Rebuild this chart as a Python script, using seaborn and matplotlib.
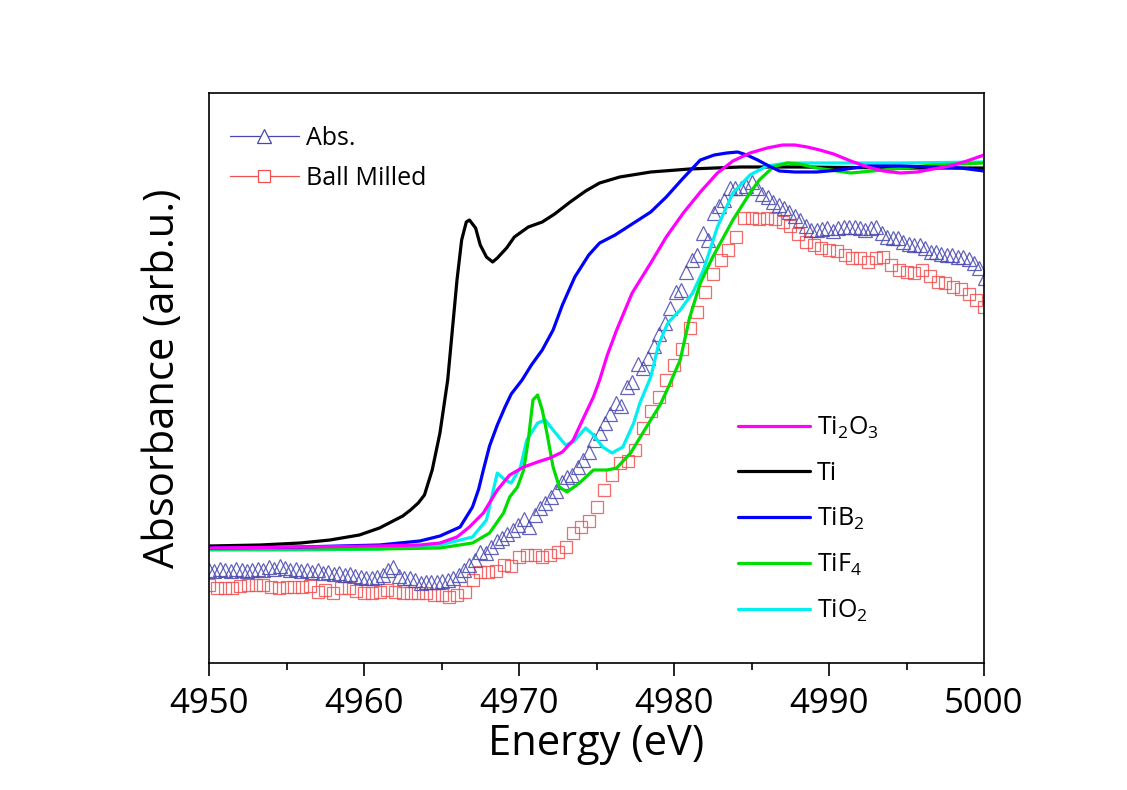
import numpy as np
import pandas as pd
import matplotlib
matplotlib.use("Agg")
import matplotlib.pyplot as plt
from matplotlib.lines import Line2D
from matplotlib.ticker import MultipleLocator
import seaborn as sns

# ---------------- data ----------------
# Reference curves (energy in eV, normalized absorbance arb.u.)
ti_E = [4950.0, 4953.3, 4955.9, 4957.8, 4959.7, 4961.0, 4962.0, 4962.5, 4963.0, 4963.5,
        4963.9, 4964.4, 4964.9, 4965.4, 4965.7, 4966.0, 4966.3, 4966.6, 4966.8, 4967.2,
        4967.5, 4967.9, 4968.3, 4968.6, 4969.2, 4969.7, 4970.6, 4971.5, 4972.3, 4973.3,
        4974.3, 4975.2, 4976.5, 4978.5, 4981.0, 4984.3, 4988.1, 4994.6, 5000.0]
ti_y = [1.17, 1.18, 1.20, 1.23, 1.28, 1.35, 1.43, 1.47, 1.53, 1.60,
        1.68, 1.93, 2.30, 2.83, 3.33, 3.83, 4.23, 4.41, 4.43, 4.35,
        4.18, 4.06, 4.01, 4.05, 4.15, 4.26, 4.36, 4.41, 4.49, 4.61,
        4.72, 4.80, 4.86, 4.91, 4.94, 4.96, 4.96, 4.95, 4.95]

tib2_E = [4950.0, 4955.9, 4961.0, 4963.6, 4964.9, 4966.2, 4967.0, 4967.4, 4967.7, 4968.1,
          4968.6, 4969.1, 4969.5, 4970.2, 4970.8, 4971.5, 4972.2, 4972.8, 4973.6, 4974.5,
          4975.2, 4976.2, 4977.4, 4978.5, 4979.5, 4980.6, 4981.7, 4982.6, 4983.4, 4984.1,
          4984.7, 4985.4, 4986.0, 4986.8, 4987.8, 4989.2, 4990.7, 4992.5, 4994.6, 4996.7,
          4998.5, 5000.0]
tib2_y = [1.15, 1.16, 1.18, 1.22, 1.27, 1.36, 1.56, 1.74, 1.93, 2.17,
          2.38, 2.56, 2.69, 2.83, 2.98, 3.13, 3.33, 3.58, 3.86, 4.08,
          4.20, 4.28, 4.40, 4.51, 4.66, 4.85, 5.03, 5.08, 5.10, 5.11,
          5.08, 5.03, 4.98, 4.92, 4.91, 4.91, 4.93, 4.97, 4.97, 4.96,
          4.95, 4.92]

ti2o3_E = [4950.0, 4955.9, 4961.0, 4963.6, 4964.9, 4966.0, 4966.8, 4967.7, 4968.6, 4969.4,
           4970.3, 4971.2, 4972.0, 4972.8, 4973.5, 4974.1, 4974.8, 4975.2, 4975.7, 4976.3,
           4977.3, 4978.5, 4979.5, 4980.6, 4981.7, 4982.8, 4983.8, 4984.9, 4986.0, 4987.0,
           4987.8, 4988.6, 4989.4, 4990.3, 4991.4, 4992.5, 4993.5, 4994.6, 4995.7, 4996.7,
           4997.8, 4998.9, 5000.0]
ti2o3_y = [1.15, 1.16, 1.17, 1.18, 1.20, 1.26, 1.36, 1.50, 1.73, 1.88,
           1.96, 2.01, 2.05, 2.11, 2.23, 2.43, 2.66, 2.83, 3.08, 3.33,
           3.70, 4.00, 4.26, 4.50, 4.71, 4.90, 5.02, 5.10, 5.15, 5.18,
           5.18, 5.16, 5.13, 5.09, 5.02, 4.96, 4.92, 4.90, 4.91, 4.94,
           4.97, 5.02, 5.08]

tif4_E = [4950.0, 4955.9, 4961.0, 4964.9, 4967.0, 4968.1, 4969.0, 4969.4, 4969.9, 4970.3,
          4970.6, 4970.9, 4971.2, 4971.5, 4971.8, 4972.2, 4972.6, 4973.1, 4973.9, 4974.8,
          4975.7, 4976.3, 4977.2, 4978.3, 4979.1, 4979.7, 4980.4, 4981.0, 4981.7, 4982.5,
          4983.8, 4984.9, 4985.5, 4986.4, 4987.3, 4988.1, 4989.2, 4991.4, 4993.5, 4996.7, 5000.0]
tif4_y = [1.14, 1.14, 1.14, 1.15, 1.20, 1.30, 1.50, 1.66, 1.76, 1.93,
          2.23, 2.63, 2.68, 2.53, 2.30, 1.96, 1.76, 1.71, 1.80, 1.93,
          1.93, 1.95, 2.10, 2.38, 2.58, 2.78, 3.03, 3.45, 3.80, 4.06,
          4.43, 4.70, 4.83, 4.96, 5.00, 4.99, 4.95, 4.90, 4.93, 4.98, 5.00]

tio2_E = [4950.0, 4955.9, 4961.0, 4964.9, 4967.0, 4967.9, 4968.3, 4968.6, 4969.1, 4969.5,
          4970.1, 4970.5, 4971.2, 4971.7, 4972.2, 4973.0, 4973.5, 4974.3, 4974.8, 4975.4,
          4976.0, 4976.7, 4977.4, 4977.8, 4978.5, 4979.0, 4979.6, 4980.4, 4981.2, 4981.9,
          4982.8, 4983.8, 4984.9, 4986.0, 4987.3, 4990.3, 4994.6, 5000.0]
tio2_y = [1.13, 1.13, 1.14, 1.18, 1.26, 1.43, 1.70, 1.90, 1.83, 1.80,
          1.96, 2.23, 2.40, 2.43, 2.33, 2.18, 2.21, 2.35, 2.28, 2.16,
          2.10, 2.16, 2.40, 2.60, 2.86, 3.18, 3.40, 3.53, 3.70, 3.93,
          4.36, 4.70, 4.88, 4.97, 5.00, 5.00, 5.00, 5.01]

# Measured sample spectra (markers)
abs_E0, abs_dE = 4950.0, 0.35
abs_y = [0.93, 0.92, 0.94, 0.93, 0.92, 0.94, 0.93, 0.92, 0.93, 0.94,
         0.93, 0.96, 0.94, 0.97, 0.95, 0.93, 0.94, 0.92, 0.93, 0.91,
         0.93, 0.90, 0.91, 0.89, 0.90, 0.88, 0.89, 0.87, 0.86, 0.85,
         0.85, 0.86, 0.88, 0.93, 0.96, 0.87, 0.85, 0.85, 0.83, 0.80,
         0.81, 0.81, 0.81, 0.82, 0.83, 0.85, 0.88, 0.93, 0.98, 1.03,
         1.11, 1.10, 1.16, 1.22, 1.25, 1.29, 1.33, 1.38, 1.44, 1.36,
         1.48, 1.55, 1.60, 1.66, 1.72, 1.81, 1.86, 1.88, 1.96, 2.03,
         2.11, 2.23, 2.30, 2.40, 2.49, 2.60, 2.57, 2.76, 2.81, 2.99,
         2.95, 3.05, 3.17, 3.29, 3.40, 3.55, 3.71, 3.73, 3.91, 4.03,
         4.08, 4.30, 4.23, 4.50, 4.57, 4.63, 4.75, 4.75, 4.75, 4.77,
         4.81, 4.75, 4.69, 4.66, 4.61, 4.58, 4.55, 4.51, 4.47, 4.43,
         4.37, 4.33, 4.33, 4.34, 4.35, 4.32, 4.35, 4.36, 4.36, 4.36,
         4.35, 4.33, 4.35, 4.36, 4.30, 4.26, 4.25, 4.25, 4.21, 4.19,
         4.18, 4.18, 4.15, 4.11, 4.11, 4.09, 4.08, 4.08, 4.06, 4.06,
         4.04, 4.00, 3.95, 3.85]

bm_E0, bm_dE = 4950.0, 0.5
bm_y = [0.78, 0.75, 0.75, 0.75, 0.77, 0.78, 0.78, 0.78, 0.76, 0.75,
        0.76, 0.76, 0.76, 0.77, 0.71, 0.73, 0.70, 0.75, 0.75, 0.72,
        0.70, 0.70, 0.71, 0.73, 0.71, 0.70, 0.70, 0.70, 0.70, 0.68,
        0.68, 0.66, 0.68, 0.71, 0.83, 0.91, 0.91, 0.92, 0.98, 0.97,
        1.06, 1.08, 1.08, 1.06, 1.08, 1.11, 1.16, 1.30, 1.36, 1.42,
        1.56, 1.73, 1.88, 2.00, 2.02, 2.13, 2.35, 2.52, 2.66, 2.83,
        2.98, 3.14, 3.35, 3.51, 3.71, 3.89, 4.03, 4.13, 4.26, 4.45,
        4.45, 4.44, 4.45, 4.44, 4.41, 4.37, 4.29, 4.21, 4.18, 4.15,
        4.13, 4.12, 4.08, 4.05, 4.05, 4.01, 4.05, 4.06, 3.98, 3.93,
        3.91, 3.90, 3.93, 3.87, 3.81, 3.80, 3.76, 3.74, 3.69, 3.63,
        3.56]

x_ticks = [4950, 4960, 4970, 4980, 4990, 5000]
x_label = "Energy (eV)"
y_label = "Absorbance (arb.u.)"

# ---------------- style ----------------
sns.set_theme(style="ticks")
FONT = ["Open Sans", "DejaVu Sans"]
plt.rcParams["font.family"] = FONT
plt.rcParams["mathtext.fontset"] = "custom"
plt.rcParams["mathtext.rm"] = "Open Sans"
plt.rcParams["mathtext.it"] = "Open Sans"
plt.rcParams["text.color"] = "black"
plt.rcParams["axes.labelcolor"] = "black"
plt.rcParams["xtick.color"] = "black"

C_TI2O3 = "#ff00ff"
C_TI = "#000000"
C_TIB2 = "#0000ff"
C_TIF4 = "#00dd00"
C_TIO2 = "#00f0f0"
C_ABS = "#4848b0"
C_BM = "#f05050"

MS_TRI = 10.5
MS_SQ = 8.3

fig = plt.figure(figsize=(11.27, 7.90), dpi=100)
ax = fig.add_axes([209 / 1127, 1 - 663 / 790, 775 / 1127, 570 / 790])

abs_E = np.round(abs_E0 + abs_dE * np.arange(len(abs_y)), 3)
bm_E = np.round(bm_E0 + bm_dE * np.arange(len(bm_y)), 3)

sns.lineplot(x=bm_E, y=bm_y, ax=ax, estimator=None, sort=False, linestyle="none",
             marker="s", markersize=MS_SQ, markerfacecolor="none", markeredgecolor=C_BM,
             markeredgewidth=0.9, color=C_BM, alpha=0.85)
sns.lineplot(x=abs_E, y=abs_y, ax=ax, estimator=None, sort=False, linestyle="none",
             marker="^", markersize=MS_TRI, markerfacecolor="none", markeredgecolor=C_ABS,
             markeredgewidth=0.9, color=C_ABS, alpha=0.85)

lw = 2.3
for E, y, c in [(ti_E, ti_y, C_TI), (tio2_E, tio2_y, C_TIO2), (tif4_E, tif4_y, C_TIF4),
                (tib2_E, tib2_y, C_TIB2), (ti2o3_E, ti2o3_y, C_TI2O3)]:
    sns.lineplot(x=E, y=y, ax=ax, estimator=None, sort=False, color=c, linewidth=lw)

ax.set_xlim(4950, 5000)
ax.set_ylim(0.0, 5.70)
ax.set_xticks(x_ticks)
ax.set_xticklabels([str(t) for t in x_ticks])
ax.xaxis.set_minor_locator(MultipleLocator(5))
ax.tick_params(axis="x", which="major", direction="out", length=9, width=1.2,
               labelsize=25, pad=8, colors="black", top=False)
ax.tick_params(axis="x", which="minor", direction="out", length=5, width=1.2, top=False)
ax.set_yticks([])
for sp in ax.spines.values():
    sp.set_visible(True)
    sp.set_color("black")
    sp.set_linewidth(1.2)

ax.set_xlabel(x_label, fontsize=30, labelpad=2, color="black")
ax.set_ylabel(y_label, fontsize=30, labelpad=18, color="black")

# legends
h1 = [Line2D([], [], color=C_ABS, lw=0.9, marker="^", markersize=MS_TRI,
             markerfacecolor="white", markeredgecolor=C_ABS, markeredgewidth=0.9),
      Line2D([], [], color=C_BM, lw=0.9, marker="s", markersize=MS_SQ,
             markerfacecolor="white", markeredgecolor=C_BM, markeredgewidth=0.9)]
leg1 = ax.legend(h1, ["Abs.", "Ball Milled"], loc="upper left",
                 bbox_to_anchor=(0.027, 0.942), frameon=False, fontsize=18,
                 handlelength=2.75, handletextpad=0.3, labelspacing=0.6,
                 borderpad=0, borderaxespad=0, labelcolor="black")
ax.add_artist(leg1)

h2 = [Line2D([], [], color=c, lw=lw) for c in [C_TI2O3, C_TI, C_TIB2, C_TIF4, C_TIO2]]
labels2 = [r"Ti$_2$O$_3$", "Ti", r"TiB$_2$", r"TiF$_4$", r"TiO$_2$"]
ax.legend(h2, labels2, loc="upper left", bbox_to_anchor=(0.683, 0.436), frameon=False,
          fontsize=18, handlelength=2.85, handletextpad=0.3, labelspacing=0.8,
          borderpad=0, borderaxespad=0, labelcolor="black")

fig.savefig("out.png", dpi=100, facecolor="white")
